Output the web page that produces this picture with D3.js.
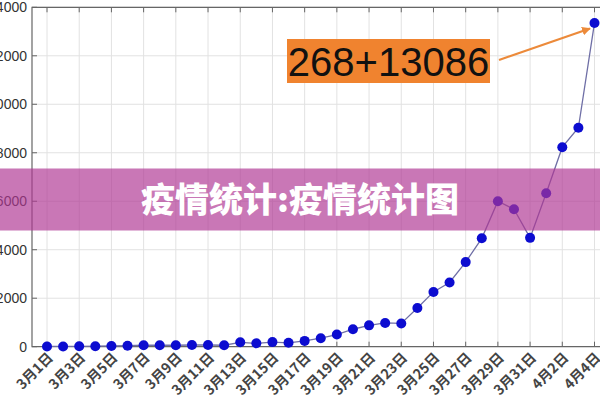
<!DOCTYPE html>
<html><head><meta charset="utf-8">
<script src="https://cdn.jsdelivr.net/npm/d3@7"></script>
<style>body{margin:0;background:#fff}svg{display:block}</style>
</head><body><svg id="c" width="600" height="400"></svg>
<script>
const dates = ["3月1日","3月2日","3月3日","3月4日","3月5日","3月6日","3月7日","3月8日","3月9日","3月10日",
"3月11日","3月12日","3月13日","3月14日","3月15日","3月16日","3月17日","3月18日","3月19日","3月20日",
"3月21日","3月22日","3月23日","3月24日","3月25日","3月26日","3月27日","3月28日","3月29日","3月30日",
"3月31日","4月1日","4月2日","4月3日","4月4日"];
const cases = [10,10,15,20,30,40,60,60,60,70,70,60,180,140,190,160,240,350,500,720,880,980,960,1600,2260,2650,3490,4470,6000,5670,4490,6330,8230,9030,13354];
const yTicks = [0,2000,4000,6000,8000,10000,12000,14000];
const annotationText = "268+13086";
const bannerText = "疫情统计:疫情统计图";

(function(){
const svg = d3.select("#c");
const x = d3.scaleLinear().domain([0, 34]).range([47, 594.5]);
const y = d3.scaleLinear().domain([0, 14000]).range([346.7, 7.3]);
const pL = 32, pT = 7.3, pB = 346.7, pR = 620;
const xTickIdx = d3.range(0, 35, 2);

// grid
svg.append("g").selectAll("line").data(xTickIdx).join("line")
  .attr("x1", d => x(d)).attr("x2", d => x(d)).attr("y1", pT).attr("y2", pB)
  .attr("stroke", "#e2e2e2").attr("stroke-width", 1);
svg.append("g").selectAll("line").data(yTicks.slice(1)).join("line")
  .attr("x1", pL).attr("x2", pR).attr("y1", d => y(d)).attr("y2", d => y(d))
  .attr("stroke", "#e2e2e2").attr("stroke-width", 1);

// frame
svg.append("path").attr("d", `M${pR},${pT}H${pL}V${pB}H${pR}`)
  .attr("fill", "none").attr("stroke", "#666").attr("stroke-width", 1.2);

// inward ticks
svg.append("g").selectAll("line").data(xTickIdx).join("line")
  .attr("x1", d => x(d)).attr("x2", d => x(d)).attr("y1", pB).attr("y2", pB - 5)
  .attr("stroke", "#666");
svg.append("g").selectAll("line").data(xTickIdx).join("line")
  .attr("x1", d => x(d)).attr("x2", d => x(d)).attr("y1", pT).attr("y2", pT + 5)
  .attr("stroke", "#666");
svg.append("g").selectAll("line").data(yTicks).join("line")
  .attr("x1", pL).attr("x2", pL + 5).attr("y1", d => y(d)).attr("y2", d => y(d))
  .attr("stroke", "#666");

// y labels
svg.append("g").selectAll("text").data(yTicks).join("text")
  .attr("x", 27).attr("y", d => y(d)).attr("dy", "0.36em")
  .attr("text-anchor", "end").attr("font-family", "Liberation Sans, Arial, sans-serif")
  .attr("font-size", 14).attr("fill", "#333").text(d => d);

// x labels
svg.append("g").selectAll("text").data(xTickIdx).join("text")
  .attr("transform", d => `translate(${x(d) + 7},${pB + 12}) rotate(-45)`)
  .attr("text-anchor", "end").attr("font-family", "Noto Sans CJK SC, sans-serif")
  .attr("font-size", 14).attr("font-weight", "bold").attr("fill", "#444")
  .text(d => dates[d]);

// line
const line = d3.line().x((d, i) => x(i)).y(d => y(d));
svg.append("path").datum(cases).attr("d", line)
  .attr("fill", "none").attr("stroke", "#6f6fa6").attr("stroke-width", 1.3);
svg.append("g").selectAll("circle").data(cases).join("circle")
  .attr("cx", (d, i) => x(i)).attr("cy", d => y(d)).attr("r", 5)
  .attr("fill", "#0c0cd0");

// annotation
svg.append("rect").attr("x", 287).attr("y", 39).attr("width", 203).attr("height", 44)
  .attr("fill", "#f0832f");
svg.append("text").attr("x", 388.5).attr("y", 76).attr("text-anchor", "middle")
  .attr("font-family", "Liberation Sans, Arial, sans-serif").attr("font-size", 40)
  .attr("fill", "#111").text(annotationText);
svg.append("defs").append("marker").attr("id", "ah").attr("viewBox", "0 0 10 10")
  .attr("refX", 9).attr("refY", 5).attr("markerWidth", 4).attr("markerHeight", 4)
  .attr("orient", "auto").append("path").attr("d", "M0,0L10,5L0,10z").attr("fill", "#ec8a3a");
svg.append("line").attr("x1", 499).attr("y1", 60).attr("x2", 590).attr("y2", 28.5)
  .attr("stroke", "#ec8a3a").attr("stroke-width", 2.2).attr("marker-end", "url(#ah)");

// banner
svg.append("rect").attr("x", 0).attr("y", 168.5).attr("width", 600).attr("height", 62)
  .attr("fill", "rgb(175,54,148)").attr("opacity", 0.68);
svg.append("text").attr("x", 300).attr("y", 212).attr("text-anchor", "middle")
  .attr("font-family", "Noto Sans CJK SC, sans-serif").attr("font-weight", "900")
  .attr("font-size", 34).attr("fill", "#fff").text(bannerText);
})();
</script></body></html>
